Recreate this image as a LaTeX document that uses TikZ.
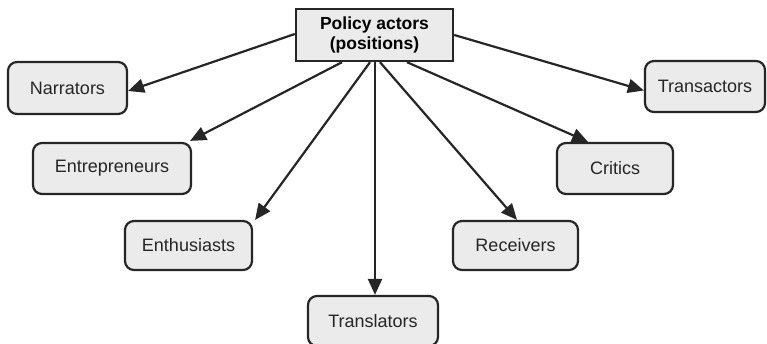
\documentclass[tikz,border=0pt]{standalone}
\usepackage{fontspec}
\setmainfont{Liberation Sans}
\usetikzlibrary{arrows.meta}
\definecolor{boxfill}{HTML}{EBEBEB}
\definecolor{ink}{HTML}{262626}
\begin{document}
\begin{tikzpicture}[x=1pt,y=-1pt,
  actor/.style={draw=ink, line width=2.2pt, fill=boxfill, rounded corners=9pt,
    inner sep=0pt, font=\fontsize{18}{20}\selectfont, text=ink},
  head/.style={draw=ink, line width=2.4pt, fill=boxfill, inner sep=0pt,
    minimum width=157pt, minimum height=52pt, align=center,
    font=\fontsize{17.5}{19.5}\selectfont\bfseries, text=black},
  link/.style={draw=ink, line width=2.2pt,
    -{Triangle[length=16pt,width=14pt]}}]
\useasboundingbox[fill=white] (0,0) rectangle (767,344);

\node[head] (top) at (374.5,35) {Policy actors\\(positions)};

\node[actor, minimum width=119pt, minimum height=52pt] (nar) at (67.5,88) {Narrators};
\node[actor, minimum width=120pt, minimum height=51pt] (trs) at (705,86.5) {Transactors};
\node[actor, minimum width=158pt, minimum height=51pt] (ent) at (112,168.5) {Entrepreneurs};
\node[actor, minimum width=116pt, minimum height=51pt] (cri) at (615,168.5) {Critics};
\node[actor, minimum width=127pt, minimum height=49pt] (ent2) at (188.5,245.5) {Enthusiasts};
\node[actor, minimum width=125pt, minimum height=49pt] (rec) at (515.5,245.5) {Receivers};
\node[actor, minimum width=130pt, minimum height=50pt] (tra) at (373,321) {Translators};

\draw[link] ([yshift=1pt]top.west) -- ([yshift=-3pt]nar.east);
\draw[link] ([yshift=0pt]top.east) -- ([yshift=-4pt]trs.west);
\draw[link] ([xshift=-32.5pt]top.south) -- ([xshift=-2pt,yshift=1pt]ent.north east);
\draw[link] ([xshift=-4.5pt]top.south) -- ([xshift=2pt]ent2.north east);
\draw[link] ([xshift=0.5pt]top.south) -- ([xshift=2pt]tra.north);
\draw[link] ([xshift=5.5pt]top.south) -- ([xshift=1.5pt]rec.north);
\draw[link] ([xshift=32.5pt]top.south) -- ([xshift=-27pt]cri.north);
\end{tikzpicture}
\end{document}
